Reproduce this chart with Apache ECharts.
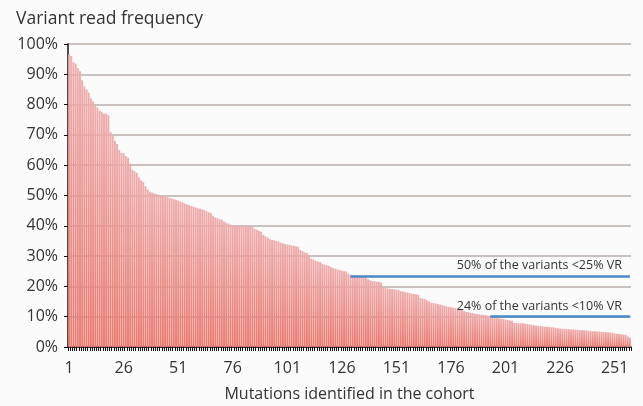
<!DOCTYPE html>
<html><head><meta charset="utf-8">
<script src="https://cdn.jsdelivr.net/npm/echarts@6/dist/echarts.min.js"></script>
<style>html,body{margin:0;padding:0;background:#fbfbfb;}#c{width:643px;height:406px;}</style>
</head><body><div id="c"></div>
<script>
const title = "Variant read frequency";
const xAxisName = "Mutations identified in the cohort";
const vrf = [
96.5,96,94,93.5,92,91,88,86,85,84,
82,81,79.5,79,78,77.5,77,77,76.5,71,
70,68,67,65,64,64,63,62.5,60.5,58.5,
58,57.5,56,55,54.5,53,52,51.3,51,50.7,
50.5,50.2,50,49.8,49.6,49.4,49.2,49,48.8,48.6,
48.3,48,47.7,47.4,47.1,46.8,46.5,46.3,46,45.8,
45.6,45.4,45.2,44.8,44.5,44.2,43.2,42.8,42.5,42.2,
42,41.4,41,40.7,40.4,40.1,40,40,40,39.9,
39.9,39.9,39.8,39.8,39.7,39,38.7,38.3,38,37,
36.5,36.1,35.6,35.4,35.2,35,34.8,34.4,34.2,34,
33.8,33.7,33.5,33.4,33.2,33.1,32,31.6,31.2,31,
30,29.2,28.8,28.5,28.2,28,27.5,27.2,27,26.8,
26.4,26,25.8,25.6,25.4,25.2,25,24.9,24.2,23.8,
23.7,23.6,23.5,23.4,23.3,23.2,23,22.4,22,21.8,
21.7,21.6,21.5,21.3,19.6,19.4,19.3,19.2,19.1,19,
18.9,18.8,18.4,18.3,18.1,18,17.8,17.6,17.5,17.4,
17.2,16.2,16,15.8,15.4,15.1,14.6,14.5,14.3,14.2,
14,13.8,13.6,13.4,13.3,13.1,13,12.8,12.6,12.4,
12.3,11.8,11.6,11.5,11.3,11.2,11,10.9,10.8,10.7,
10.6,10.5,10.3,10,9.9,9.8,9.7,9.5,9.3,9.2,
9,8.9,8.8,8.6,8,7.9,7.9,7.8,7.8,7.7,
7.6,7.4,7.3,7.2,7.1,7,6.9,6.8,6.7,6.7,
6.6,6.5,6.5,6.3,6.2,6.1,6,6,5.9,5.9,
5.8,5.8,5.7,5.7,5.6,5.6,5.5,5.5,5.4,5.3,
5.2,5.2,5.1,5.1,5,5,4.9,4.9,4.8,4.6,
4.5,4.4,4.3,4.2,4.1,4,3.5,3
];
const categories = vrf.map((v, i) => String(i + 1));
const annotations = [
  {text: "50% of the variants <25% VR", fromIndex: 129, level: 23.5},
  {text: "24% of the variants <10% VR", fromIndex: 193, level: 10}
];
const FONT = "Open Sans";
const chart = echarts.init(document.getElementById('c'), null, {renderer: 'canvas'});
chart.setOption({
  backgroundColor: '#fbfbfb',
  animation: false,
  title: {text: title, left: 11, top: 5, textStyle: {fontFamily: FONT, fontSize: 17.5, fontWeight: 'normal', color: '#333'}},
  grid: {left: 68, right: 12, top: 44, bottom: 59, outerBoundsMode: 'none', containLabel: false},
  xAxis: {
    type: 'category', data: categories,
    name: xAxisName, nameLocation: 'middle', nameGap: 39,
    nameTextStyle: {fontFamily: FONT, fontSize: 16, color: '#333'},
    axisLine: {lineStyle: {color: '#111', width: 1.5}},
    axisTick: {show: true, interval: 0, length: 4, lineStyle: {color: '#111'}},
    axisLabel: {interval: 24, fontFamily: FONT, fontSize: 16, color: '#333', margin: 13}
  },
  yAxis: {
    type: 'value', min: 0, max: 100, interval: 10,
    axisLine: {show: true, lineStyle: {color: '#111', width: 1.5}},
    axisTick: {show: true, length: 4, lineStyle: {color: '#111'}},
    axisLabel: {formatter: '{value}%', fontFamily: FONT, fontSize: 16, color: '#333', margin: 10},
    splitLine: {lineStyle: {color: '#b8aeaa', width: 1.5}}
  },
  series: [{
    type: 'bar', data: vrf, barCategoryGap: '12%',
    itemStyle: {color: new echarts.graphic.LinearGradient(0, 0, 0, 1, [
      {offset: 0, color: '#eeadad'}, {offset: 1, color: '#e87a70'}
    ])},
    markLine: {
      symbol: 'none', silent: true,
      lineStyle: {color: '#4a8ac4', width: 2.5, type: 'solid'},
      label: {show: true, position: 'insideEndTop', distance: [8, 4], fontFamily: FONT, fontSize: 12.5, color: '#333'},
      data: annotations.map(a => [
        {coord: [a.fromIndex, a.level], label: {formatter: a.text}},
        {coord: [vrf.length - 1, a.level]}
      ])
    }
  }]
});
</script></body></html>
